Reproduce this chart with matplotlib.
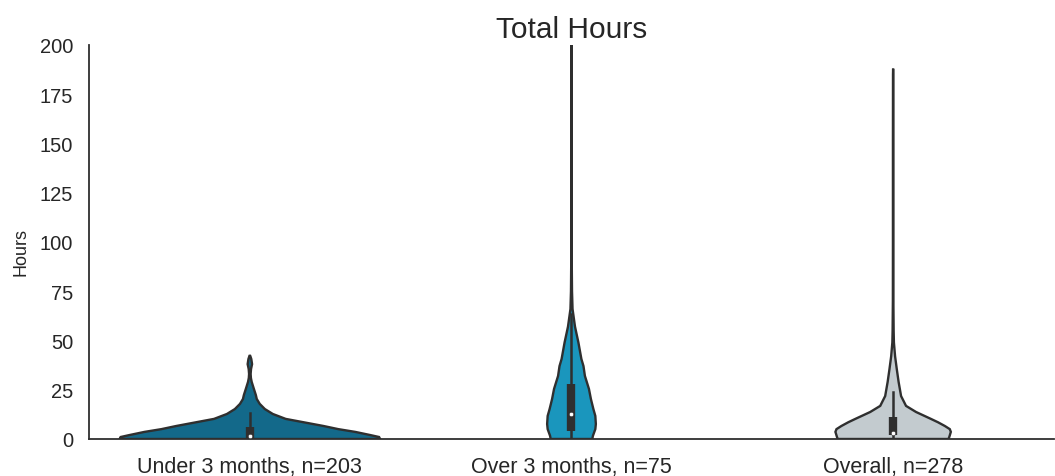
import numpy as np
import matplotlib
matplotlib.use("Agg")
import matplotlib.pyplot as plt

# Categories and their fill colours
groups = ["Under 3 months, n=203", "Over 3 months, n=75", "Overall, n=278"]
fill_colors = ["#13698a", "#1a96bd", "#c3cbcf"]

# Estimated density profiles (hours, relative density; 1.0 = widest point)
under_hours = [0, 1.0, 2.0, 3.6, 5.0, 6.6, 8.5, 10.2, 12.7, 15.2, 17.8, 20.3,
               22.3, 25.4, 29.0, 31.0, 33.0, 35.5, 38.0, 40.6, 42.0, 42.6]
under_density = [1.000, 0.992, 0.924, 0.809, 0.679, 0.565, 0.412, 0.275, 0.176,
                 0.115, 0.076, 0.053, 0.046, 0.031, 0.014, 0.008, 0.006, 0.009,
                 0.017, 0.011, 0.004, 0.0]

over_hours = [0, 1.5, 5.0, 7.6, 11.7, 15.2, 20.3, 25.4, 32.0, 37.0, 40.6, 49.0,
              57.0, 66.0, 75.0, 90.0, 120.0, 160.0, 200.0, 215.0]
over_density = [0.160, 0.164, 0.183, 0.187, 0.183, 0.168, 0.149, 0.134, 0.103,
                0.092, 0.076, 0.053, 0.027, 0.008, 0.004, 0.002, 0.0015, 0.0015,
                0.0015, 0.0]

overall_hours = [0, 1.0, 3.6, 5.0, 6.6, 8.5, 10.2, 13.7, 16.8, 21.8, 29.0, 35.5,
                 42.0, 49.0, 55.0, 70.0, 100.0, 150.0, 185.0, 188.0]
overall_density = [0.425, 0.431, 0.443, 0.435, 0.397, 0.344, 0.290, 0.176, 0.099,
                   0.061, 0.042, 0.028, 0.015, 0.006, 0.004, 0.002, 0.0015, 0.0015,
                   0.001, 0.0]

# Box summaries: lower whisker, Q1, median, Q3, upper whisker
under_box = [0.0, 0.5, 1.5, 6.0, 13.0]
over_box = [0.0, 4.2, 12.7, 27.9, 63.5]
overall_box = [0.0, 2.0, 3.2, 11.0, 24.0]

yticks = [0, 25, 50, 75, 100, 125, 150, 175, 200]

profiles = [(under_hours, under_density, under_box),
            (over_hours, over_density, over_box),
            (overall_hours, overall_density, overall_box)]

plt.rcParams["font.family"] = ["Liberation Sans", "DejaVu Sans"]
text_color = "#262626"
line_gray = "#2f2f2f"

fig = plt.figure(figsize=(10.55, 4.77), dpi=100)
ax = fig.add_axes([0.0844, 0.0776, 0.9146, 0.826])

half_width = 0.405
for i, ((hrs, dens, box), color) in enumerate(zip(profiles, fill_colors)):
    hrs = np.asarray(hrs)
    dens = np.asarray(dens) * half_width
    xs = np.concatenate([i - dens, (i + dens)[::-1]])
    ys = np.concatenate([hrs, hrs[::-1]])
    ax.fill(xs, ys, facecolor=color, edgecolor=line_gray, linewidth=1.7, zorder=2)
    wlo, q1, med, q3, whi = box
    ax.plot([i, i], [wlo, whi], color=line_gray, linewidth=1.8, zorder=3)
    ax.plot([i, i], [q1, q3], color=line_gray, linewidth=6, solid_capstyle="butt", zorder=3)
    ax.scatter([i], [med], s=10, color="white", edgecolor=line_gray, linewidth=0.4, zorder=4)

ax.set_xlim(-0.5, 2.5)
ax.set_ylim(0, 200)
ax.set_xticks(range(len(groups)))
ax.set_xticklabels(groups, fontsize=15.5, color=text_color)
ax.set_yticks(yticks)
ax.set_yticklabels([str(t) for t in yticks], fontsize=14.5, color=text_color)
ax.tick_params(length=0)
ax.tick_params(axis="x", pad=12)
ax.tick_params(axis="y", pad=11.5)
ax.set_ylabel("Hours", fontsize=13, color=text_color)
ax.yaxis.set_label_coords(-0.062, 0.477)
ax.set_title("Total Hours", fontsize=21.5, color=text_color, pad=6)

for side in ["top", "right"]:
    ax.spines[side].set_visible(False)
for side in ["left", "bottom"]:
    ax.spines[side].set_color(line_gray)
    ax.spines[side].set_linewidth(1.3)

fig.savefig("out.png", dpi=100)
